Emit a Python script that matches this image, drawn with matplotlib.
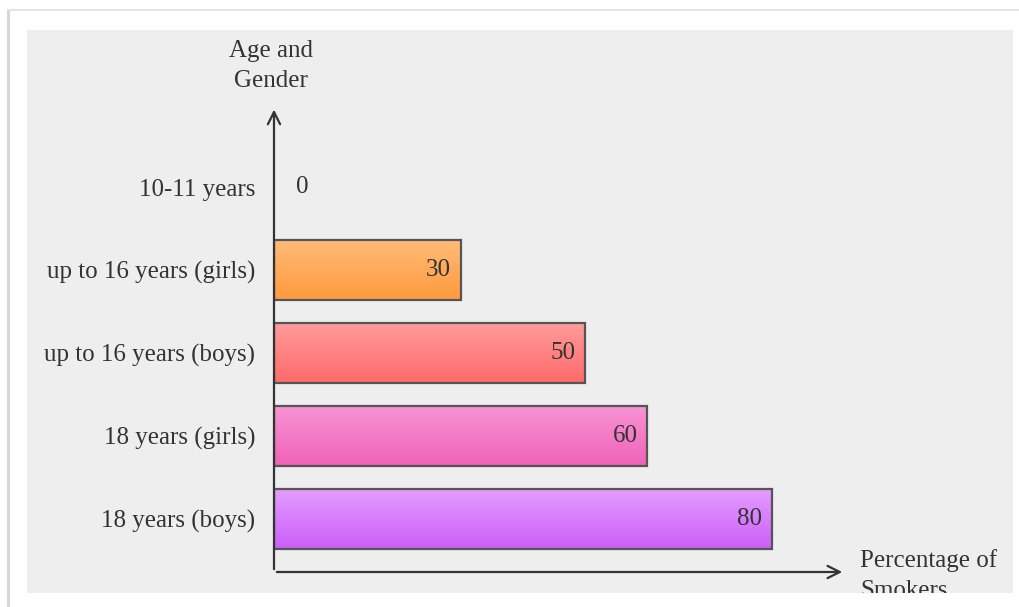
import numpy as np
import matplotlib
matplotlib.use("Agg")
import matplotlib.pyplot as plt
from matplotlib.patches import Rectangle
from matplotlib.colors import LinearSegmentedColormap

# data (bottom to top)
categories = ["18 years (boys)", "18 years (girls)", "up to 16 years (boys)",
              "up to 16 years (girls)", "10-11 years"]
values = [80, 60, 50, 30, 0]
top_colors = ["#e49dff", "#f894d4", "#ff9b9b", "#ffbb78", "#ffbb78"]
bottom_colors = ["#cc5ef8", "#f062b8", "#ff6a6a", "#ff9a3e", "#ff9a3e"]

plt.rcParams['font.family'] = ['Liberation Serif', 'DejaVu Serif']
txt = "#333333"
fs = 18

W, H = 1020, 607
fig = plt.figure(figsize=(W / 100, H / 100), dpi=100)
fig.patch.set_facecolor("white")

# outer frame lines and grey panel
fig.add_artist(plt.Line2D([8 / W, 8 / W], [0, 1 - 10 / H], color="#d4d4d4", lw=2))
fig.add_artist(plt.Line2D([8 / W, 1], [1 - 10 / H, 1 - 10 / H], color="#e4e4e4", lw=1.5))
panel = Rectangle((27 / W, 1 - 593 / H), (1013 - 27) / W, (593 - 30) / H,
                  transform=fig.transFigure, facecolor="#eeeeee", edgecolor="none", zorder=0)
fig.add_artist(panel)

ax = fig.add_axes([274 / W, (H - 572) / H, 571 / W, 462 / H])
ax.set_facecolor("none")
for s in ax.spines.values():
    s.set_visible(False)
ax.set_xticks([])

ypos = np.arange(len(categories))
bars = ax.barh(ypos, values, height=0.72, facecolor="none",
               edgecolor="#555555", linewidth=1.6, zorder=3)

grad = np.linspace(0, 1, 100).reshape(-1, 1)
for b, c1, c2, v in zip(bars, top_colors, bottom_colors, values):
    if v <= 0:
        b.set_visible(False)
        continue
    cmap = LinearSegmentedColormap.from_list("g", [c1, c2])
    x0, y0 = b.get_x(), b.get_y()
    im = ax.imshow(grad, cmap=cmap, aspect="auto", origin="upper",
                   extent=[x0, x0 + b.get_width(), y0, y0 + b.get_height()], zorder=2)
    im.set_clip_path(b)

ax.set_xlim(0, 91.8)
ax.set_ylim(-0.64, 4.93)

ax.set_yticks(ypos)
ax.set_yticklabels(categories, fontsize=fs, color=txt)
ax.tick_params(axis="y", length=0, pad=13.5)

for y, v in zip(ypos, values):
    if v == 0:
        ax.annotate(str(v), (v, y), xytext=(16, 0), textcoords="offset points",
                    ha="left", va="center", fontsize=fs, color=txt)
    else:
        ax.annotate(str(v), (v, y), xytext=(-7, 0), textcoords="offset points",
                    ha="right", va="center", fontsize=fs, color=txt)

# axis arrows
arrow = dict(arrowstyle="->", lw=1.6, color="#333333", mutation_scale=22)
ax.annotate("", xy=(0, 1.007), xytext=(0, 0), xycoords="axes fraction",
            arrowprops=arrow, annotation_clip=False)
ax.annotate("", xy=(1, 0), xytext=(0, 0), xycoords="axes fraction",
            arrowprops=arrow, annotation_clip=False)

fig.text(271 / W, 1 - 66 / H, "Age and\nGender", ha="center", va="center",
         fontsize=fs, color=txt, linespacing=1.45)
t = fig.text(860 / W, 1 - 549 / H, "Percentage of\nSmokers", ha="left", va="top",
             fontsize=fs, color=txt, linespacing=1.45)
t.set_clip_on(True)
t.set_clip_path(panel)

fig.savefig("out.png", dpi=100, facecolor="white")
